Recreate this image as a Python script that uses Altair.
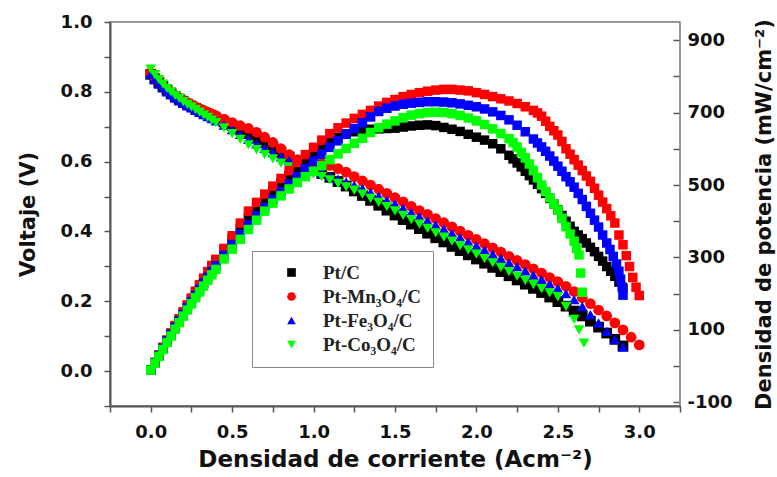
import altair as alt
import pandas as pd

SERIES = ["Pt/C", "Pt-Mn₃O₄/C", "Pt-Fe₃O₄/C", "Pt-Co₃O₄/C"]
COLORS = ["#000000", "#ff0000", "#0000ff", "#00ff00"]
SHAPES = ["square", "circle", "triangle-up", "triangle-down"]

# current density sampling grid (A/cm2)
J_GRID = [0.0, 0.025, 0.05, 0.075, 0.1, 0.125, 0.15, 0.175, 0.2, 0.225, 0.25, 0.275,
          0.3, 0.325, 0.35, 0.375, 0.4, 0.45, 0.5, 0.55, 0.6, 0.65, 0.7, 0.75, 0.8,
          0.85, 0.9, 0.95, 1.0, 1.05, 1.1, 1.15, 1.2, 1.25, 1.3, 1.35, 1.4, 1.45, 1.5,
          1.55, 1.6, 1.65, 1.7, 1.75, 1.8, 1.85, 1.9, 1.95, 2.0, 2.05, 2.1, 2.15, 2.2,
          2.25, 2.3, 2.35, 2.4, 2.45, 2.5, 2.55, 2.6, 2.65, 2.7, 2.75, 2.8, 2.85, 2.9,
          2.95, 3.0]

# ---- Voltage (V), on J_GRID ----
V_PTC = [0.850, 0.837, 0.826, 0.815, 0.805, 0.796, 0.787, 0.779, 0.772, 0.765, 0.759, 0.753,
         0.747, 0.741, 0.736, 0.730, 0.725,
         0.714, 0.703, 0.692, 0.681, 0.668, 0.655, 0.641, 0.627, 0.613, 0.600, 0.588, 0.577,
         0.566, 0.555, 0.543, 0.530, 0.516, 0.503, 0.489, 0.475, 0.461, 0.447, 0.434, 0.421,
         0.408, 0.395, 0.382, 0.370, 0.357, 0.345, 0.333, 0.321, 0.309, 0.297, 0.285, 0.273,
         0.261, 0.249, 0.237, 0.225, 0.212, 0.199, 0.186, 0.172, 0.158, 0.143, 0.126, 0.109,
         0.091, 0.072]
V_MN = [0.855, 0.842, 0.830, 0.819, 0.808, 0.799, 0.790, 0.783, 0.776, 0.769, 0.763, 0.757,
        0.752, 0.747, 0.742, 0.737, 0.732,
        0.722, 0.712, 0.703, 0.695, 0.684, 0.670, 0.655, 0.637, 0.620, 0.606, 0.602, 0.598,
        0.594, 0.589, 0.580, 0.570, 0.557, 0.545, 0.533, 0.521, 0.509, 0.497, 0.485, 0.472,
        0.460, 0.449, 0.437, 0.425, 0.413, 0.401, 0.389, 0.377, 0.365, 0.353, 0.341, 0.329,
        0.317, 0.305, 0.293, 0.281, 0.268, 0.256, 0.243, 0.228, 0.210, 0.193, 0.175, 0.158,
        0.138, 0.118, 0.097, 0.075]
V_FE = [0.850, 0.835, 0.822, 0.811, 0.800, 0.791, 0.782, 0.774, 0.767, 0.760, 0.754, 0.747,
        0.741, 0.735, 0.729, 0.723, 0.717,
        0.705, 0.692, 0.678, 0.664, 0.651, 0.638, 0.626, 0.614, 0.603, 0.593, 0.584, 0.576,
        0.567, 0.558, 0.550, 0.542, 0.533, 0.523, 0.512, 0.501, 0.490, 0.479, 0.467, 0.455,
        0.443, 0.431, 0.419, 0.407, 0.395, 0.383, 0.371, 0.359, 0.347, 0.335, 0.323, 0.311,
        0.299, 0.287, 0.275, 0.263, 0.250, 0.237, 0.222, 0.205, 0.185, 0.162, 0.138, 0.114,
        0.090, 0.069]
V_CO = [0.865, 0.849, 0.835, 0.822, 0.810, 0.800, 0.790, 0.781, 0.772, 0.764, 0.757, 0.749,
        0.742, 0.734, 0.727, 0.719, 0.712,
        0.697, 0.680, 0.664, 0.648, 0.634, 0.620, 0.608, 0.596, 0.585, 0.577, 0.570, 0.564,
        0.557, 0.548, 0.538, 0.528, 0.518, 0.507, 0.495, 0.483, 0.471, 0.459, 0.446, 0.434,
        0.421, 0.409, 0.396, 0.384, 0.372, 0.359, 0.347, 0.335, 0.322, 0.310, 0.297, 0.285,
        0.272, 0.260, 0.248, 0.236, 0.224, 0.213, 0.185, 0.148]
V_CO_TAIL_J = [2.63, 2.66]
V_CO_TAIL = [0.118, 0.080]

# ---- Power density (mW/cm2), first part on J_GRID, then tail points ----
P_PTC = [-11, 10, 30, 51, 71, 90, 110, 129, 148, 166, 185, 203, 221, 239, 256, 273, 290,
         320, 350, 380, 410, 436, 460, 483, 505, 527, 548, 568, 588, 605, 620, 632, 641,
         647, 651, 654, 655, 656, 657, 660, 663, 665, 666, 664, 659, 654, 648, 640, 632,
         624, 614, 600, 582]
P_PTC_TAIL_J = [2.225, 2.25, 2.275, 2.3, 2.325, 2.35, 2.375, 2.4, 2.425, 2.45, 2.475, 2.5,
                2.525, 2.55, 2.575, 2.6, 2.625, 2.65, 2.675, 2.7, 2.725, 2.75, 2.775, 2.8,
                2.825, 2.85, 2.875, 2.9]
P_PTC_TAIL = [572, 561, 550, 538, 526, 514, 502, 490, 477, 463, 448, 432, 416, 400, 386,
              372, 362, 352, 340, 328, 316, 303, 290, 275, 262, 248, 232, 215]

P_MN = [-11, 10, 31, 52, 72, 92, 112, 131, 150, 169, 188, 207, 225, 243, 261, 278, 295,
        325, 360, 395, 428, 452, 475, 497, 518, 540, 562, 584, 604, 624, 642, 658, 671,
        684, 695, 706, 718, 728, 736, 744, 750, 755, 759, 762, 764, 764, 762, 760, 755,
        750, 744, 738, 732, 725, 716, 706]
P_MN_TAIL_J = [2.375, 2.4, 2.425, 2.45, 2.475, 2.5, 2.525, 2.55, 2.575, 2.6, 2.625, 2.65,
               2.675, 2.7, 2.725, 2.75, 2.775, 2.8, 2.825, 2.85, 2.875, 2.9, 2.92, 2.94,
               2.96, 2.98, 3.0]
P_MN_TAIL = [699, 690, 676, 662, 650, 638, 620, 600, 585, 570, 555, 540, 525, 510, 491,
             472, 453, 435, 415, 395, 362, 335, 305, 275, 245, 218, 195]

P_FE = [-11, 9, 29, 49, 69, 88, 107, 125, 143, 161, 178, 195, 212, 229, 245, 261, 277,
        306, 336, 364, 390, 415, 438, 460, 481, 502, 523, 545, 566, 585, 604, 622, 640,
        656, 672, 688, 703, 712, 718, 723, 726, 728, 730, 730, 729, 727, 724, 720, 716,
        710, 702, 692, 680, 665, 647, 627]
P_FE_TAIL_J = [2.375, 2.4, 2.425, 2.45, 2.475, 2.5, 2.525, 2.55, 2.575, 2.6, 2.625, 2.65,
               2.675, 2.7, 2.725, 2.75, 2.775, 2.8, 2.82, 2.84, 2.86, 2.875, 2.885, 2.895,
               2.9]
P_FE_TAIL = [616, 605, 593, 580, 566, 552, 538, 523, 509, 494, 477, 460, 441, 422, 403,
             384, 362, 340, 322, 303, 282, 262, 240, 218, 196]

P_CO = [-11, 8, 27, 46, 65, 83, 102, 120, 138, 155, 172, 189, 205, 221, 237, 252, 267,
        296, 323, 350, 377, 403, 428, 450, 470, 489, 507, 523, 538, 553, 570, 586, 601,
        615, 629, 645, 658, 668, 677, 686, 693, 697, 700, 701, 700, 697, 692, 685, 677,
        667, 655, 642, 628]
P_CO_TAIL_J = [2.225, 2.25, 2.275, 2.3, 2.325, 2.35, 2.375, 2.4, 2.425, 2.45, 2.475, 2.5,
               2.525, 2.55, 2.575, 2.6, 2.615, 2.63, 2.64, 2.65]
P_CO_TAIL = [617, 605, 590, 575, 558, 540, 520, 500, 482, 465, 448, 431, 408, 385, 365,
             345, 325, 307, 257, 204]

X_TICKS = [-0.25, 0.0, 0.25, 0.5, 0.75, 1.0, 1.25, 1.5, 1.75, 2.0, 2.25, 2.5, 2.75, 3.0, 3.25]
V_TICKS = [-0.1, 0.0, 0.1, 0.2, 0.3, 0.4, 0.5, 0.6, 0.7, 0.8, 0.9, 1.0]
P_TICKS = [-100, 0, 100, 200, 300, 400, 500, 600, 700, 800, 900]

# ---- tables ----
volt_sets = [
    (SERIES[0], J_GRID[:len(V_PTC)], V_PTC),
    (SERIES[1], J_GRID[:len(V_MN)], V_MN),
    (SERIES[2], J_GRID[:len(V_FE)], V_FE),
    (SERIES[3], J_GRID[:len(V_CO)] + V_CO_TAIL_J, V_CO + V_CO_TAIL),
]
pow_sets = [
    (SERIES[0], J_GRID[:len(P_PTC)] + P_PTC_TAIL_J, P_PTC + P_PTC_TAIL),
    (SERIES[1], J_GRID[:len(P_MN)] + P_MN_TAIL_J, P_MN + P_MN_TAIL),
    (SERIES[2], J_GRID[:len(P_FE)] + P_FE_TAIL_J, P_FE + P_FE_TAIL),
    (SERIES[3], J_GRID[:len(P_CO)] + P_CO_TAIL_J, P_CO + P_CO_TAIL),
]
rows = []
for name, js, vs in volt_sets:
    for j, v in zip(js, vs):
        rows.append({"j": j, "V": v, "series": name, "idx": len(rows)})
df_v = pd.DataFrame(rows)
rows = []
for name, js, ps in pow_sets:
    for j, p in zip(js, ps):
        rows.append({"j": j, "P": p, "series": name, "idx": len(rows)})
df_p = pd.DataFrame(rows)

FONT = "DejaVu Sans"
x_scale = alt.Scale(domain=[-0.25, 3.25], nice=False, zero=False)
color_scale = alt.Scale(domain=SERIES, range=COLORS)
shape_scale = alt.Scale(domain=SERIES, range=SHAPES)

x_axis = alt.Axis(
    values=X_TICKS, title="Densidad de corriente (Acm⁻²)",
    labelExpr="(datum.value >= 0 && datum.value <= 3 && round(datum.value * 4) % 2 == 0) ? format(datum.value, '.1f') : ''",
    labelPadding=11, titlePadding=7, titleFontSize=23)

legend = alt.Legend(
    title=None, orient="none", legendX=142, legendY=229,
    strokeColor="#888888", fillColor="white", padding=12,
    symbolOffset=18, labelOffset=22, rowPadding=4,
    labelFont="Liberation Serif", labelFontWeight="bold", labelFontSize=19,
    labelColor="#222222", symbolSize=75, symbolStrokeWidth=0,
)

volt = alt.Chart(df_v).mark_point(filled=True, opacity=1, size=115, strokeWidth=0).encode(
    x=alt.X("j:Q", scale=x_scale, axis=x_axis),
    y=alt.Y("V:Q", scale=alt.Scale(domain=[-0.1, 1.0], nice=False, zero=False), axis=alt.Axis(
        orient="left", values=V_TICKS, title="Voltaje (V)",
        labelExpr="(datum.value > -0.05 && round(datum.value * 10) % 2 == 0) ? format(datum.value, '.1f') : ''",
        labelPadding=12, titlePadding=22)),
    color=alt.Color("series:N", scale=color_scale, legend=legend),
    shape=alt.Shape("series:N", scale=shape_scale, legend=legend),
    order=alt.Order("idx:Q"),
)

power = alt.Chart(df_p).mark_point(filled=True, opacity=1, size=90, shape="square", strokeWidth=0).encode(
    x=alt.X("j:Q", scale=x_scale, axis=x_axis),
    y=alt.Y("P:Q", scale=alt.Scale(domain=[-110, 950], nice=False, zero=False), axis=alt.Axis(
        orient="right", values=P_TICKS, title="Densidad de potencia (mW/cm⁻²)",
        labelExpr="((datum.value + 100) % 200 == 0) ? datum.value : ''",
        offset=-7, domain=False, labelPadding=8, titlePadding=42, titleAngle=270)),
    color=alt.Color("series:N", scale=color_scale, legend=legend),
    order=alt.Order("idx:Q"),
)

chart = alt.layer(volt, power).resolve_scale(y="independent").properties(
    width=570, height=384,
    padding={"left": 110, "top": 22, "right": 97, "bottom": 71},
    autosize=alt.AutoSizeParams(type="none"),
).configure_view(
    stroke="#777777", strokeWidth=1.5
).configure_axis(
    grid=False, labelFont=FONT, labelFontWeight="bold", labelFontSize=18, labelColor="#111111",
    titleFont=FONT, titleFontWeight="bold", titleFontSize=21, titleColor="#111111",
    domainColor="#555555", domainWidth=2, tickColor="#555555", tickWidth=1.5, tickSize=6,
    labelOverlap=False, labelBound=False, labelFlush=False,
)

chart.save("out.html", embed_options={"renderer": "svg", "actions": False})
